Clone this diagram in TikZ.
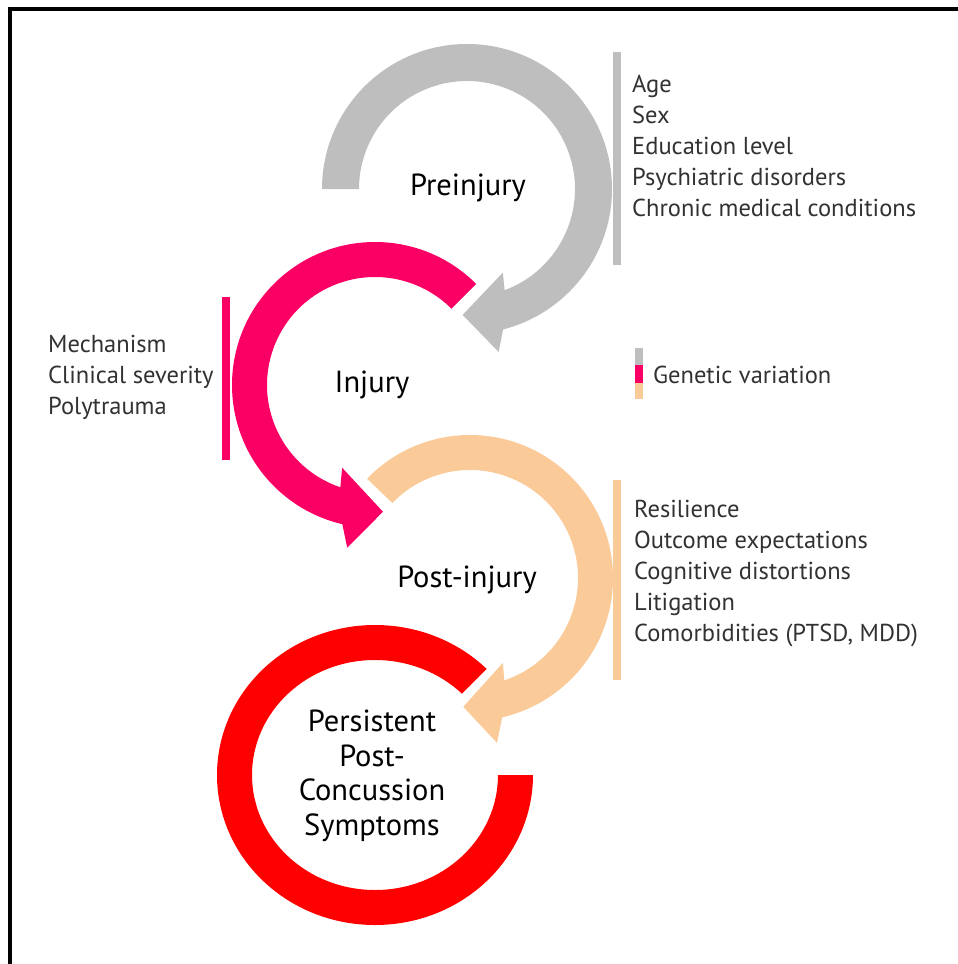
\documentclass[tikz,border=0pt]{standalone}
\usepackage{fontspec}
\setmainfont{PT Sans}
\definecolor{grayc}{RGB}{190,190,190}
\definecolor{pinkc}{RGB}{250,0,100}
\definecolor{peachc}{RGB}{250,202,152}
\definecolor{redc}{RGB}{255,0,0}
\definecolor{txtc}{RGB}{50,50,50}
\tikzset{
  listtext/.style={anchor=west,align=left,inner sep=0pt,text=txtc,font=\fontsize{24.5}{31}\selectfont},
  stagelabel/.style={inner sep=0pt,align=center,text=black,font=\fontsize{30.5}{34.5}\selectfont},
  sidebar/.style={line width=8pt}
}
\begin{document}
\begin{tikzpicture}[x=1pt,y=1pt]
\useasboundingbox (0,0) rectangle (958,-964);
\fill[white] (0,0) rectangle (958,-964);
% frame
\draw[line width=4pt,black] (10,-964) -- (10,-9) -- (958,-9);

% gray arrow (preinjury)
\begin{scope}[shift={(467,-189)}]
\fill[grayc] (180:145pt) arc[start angle=180,end angle=-75.6,radius=145pt]
  -- (-79:166pt) -- (-92:126pt) -- (-66.8:91pt) -- (-69.6:108pt)
  arc[start angle=-69.6,end angle=180,radius=108pt] -- cycle;
\end{scope}
% pink arrow (injury)
\begin{scope}[shift={(375,-385)}]
\fill[pinkc] (45:143pt) arc[start angle=45,end angle=256.8,radius=143pt]
  -- (260.3:165pt) -- (273.6:127pt) -- (248.3:89pt) -- (251.3:108pt)
  arc[start angle=251.3,end angle=45,radius=108pt] -- cycle;
\end{scope}
% peach arrow (post-injury)
\begin{scope}[shift={(470,-578)}]
\fill[peachc] (136:143pt) arc[start angle=136,end angle=-77,radius=143pt]
  -- (-80.7:167pt) -- (-93:129pt) -- (-68.8:91pt) -- (-71.5:108pt)
  arc[start angle=-71.5,end angle=136,radius=108pt] -- cycle;
\end{scope}
% red ring (PPCS)
\begin{scope}[shift={(375,-775)}]
\fill[redc] (45:158pt and 150pt) arc[start angle=45,end angle=360,x radius=158pt,y radius=150pt]
  -- (0:123pt and 115pt) arc[start angle=360,end angle=45,x radius=123pt,y radius=115pt] -- cycle;
\end{scope}

% side bars
\coordinate (gb1) at (617,-52); \coordinate (gb2) at (617,-265);
\draw[sidebar,grayc] (gb1) -- (gb2);
\coordinate (pb1) at (226,-297); \coordinate (pb2) at (226,-460);
\draw[sidebar,pinkc] (pb1) -- (pb2);
\coordinate (ob1) at (617,-480); \coordinate (ob2) at (617,-680);
\draw[sidebar,peachc] (ob1) -- (ob2);

% genetic legend
\fill[grayc] (635,-348) rectangle (643,-365);
\fill[pinkc] (635,-365) rectangle (643,-383);
\fill[peachc] (635,-383) rectangle (643,-399);
\node[listtext] (gen) at (653,-375) {Genetic variation};

% lists
\node[listtext] (pre) at (632,-146) {Age\\Sex\\Education level\\Psychiatric disorders\\Chronic medical conditions};
\node[listtext] (inj) at (48,-377) {Mechanism\\Clinical severity\\Polytrauma};
\node[listtext] (post) at (634,-574) {Resilience\\Outcome expectations\\Cognitive distortions\\Litigation\\Comorbidities (PTSD, MDD)};

% stage labels
\node[stagelabel] (lpre) at (468,-188) {Preinjury};
\node[stagelabel] (linj) at (372,-385) {Injury};
\node[stagelabel] (lpost) at (467,-580) {Post-injury};
\node[stagelabel] (lppcs) at (372,-776) {Persistent\\Post-\\Concussion\\Symptoms};
\end{tikzpicture}
\end{document}
